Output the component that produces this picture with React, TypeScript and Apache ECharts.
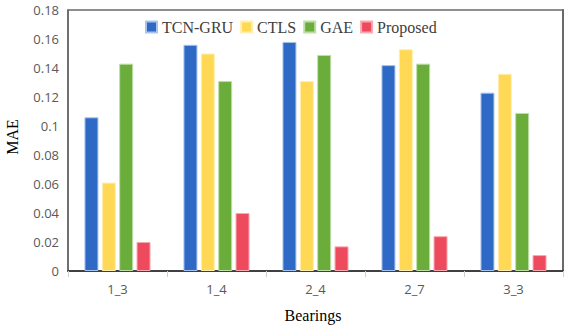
import React, { useEffect, useRef } from "react";
import * as echarts from "echarts";

const categories = ["1_3", "1_4", "2_4", "2_7", "3_3"];
const seriesNames = ["TCN-GRU", "CTLS", "GAE", "Proposed"];
const tcnGru = [0.106, 0.156, 0.158, 0.142, 0.123];
const ctls = [0.061, 0.150, 0.131, 0.153, 0.136];
const gae = [0.143, 0.131, 0.149, 0.143, 0.109];
const proposed = [0.020, 0.040, 0.017, 0.024, 0.011];
const colors = ["#2F69C6", "#FFD955", "#6AAD3A", "#EE4A5D"];
const borderColors = ["#A9C3EE", "#FFEFB0", "#BFDDA8", "#F7A9B2"];

export default function App() {
  const ref = useRef<HTMLDivElement>(null);
  useEffect(() => {
    if (!ref.current) return;
    document.body.style.margin = "0";
    const chart = echarts.init(ref.current, undefined, { renderer: "svg" });
    const data = [tcnGru, ctls, gae, proposed];
    chart.setOption({
      animation: false,
      backgroundColor: "#ffffff",
      grid: { left: 68, right: 9, top: 10, bottom: 54 },
      legend: {
        data: seriesNames,
        left: 140,
        top: 14,
        icon: "rect",
        itemWidth: 11,
        itemHeight: 11,
        itemGap: 7,
        textStyle: { fontFamily: "Liberation Serif", fontSize: 16, color: "#404040" },
      },
      xAxis: [
        {
          type: "category",
          data: categories,
          position: "bottom",
          axisLine: { show: true, onZero: false, lineStyle: { color: "#404040", width: 2 } },
          axisTick: { show: true, length: 6, lineStyle: { color: "#d0d0d0" } },
          axisLabel: { fontFamily: "Open Sans", fontSize: 13, color: "#595959", margin: 11 },
        },
        {
          type: "category",
          data: categories,
          position: "top",
          axisLine: { show: true, onZero: false, lineStyle: { color: "#6a6a6a", width: 1.5 } },
          axisTick: { show: false },
          axisLabel: { show: false },
        },
      ],
      yAxis: [
        {
          type: "value",
          min: 0,
          max: 0.18,
          interval: 0.02,
          position: "left",
          splitLine: { show: false },
          axisLine: { show: true, onZero: false, lineStyle: { color: "#404040", width: 1.5 } },
          axisTick: { show: false },
          axisLabel: { fontFamily: "Open Sans", fontSize: 13, color: "#595959", margin: 9 },
        },
        {
          type: "value",
          min: 0,
          max: 0.18,
          interval: 0.02,
          position: "right",
          splitLine: { show: false },
          axisLine: { show: true, onZero: false, lineStyle: { color: "#6a6a6a", width: 2 } },
          axisTick: { show: false },
          axisLabel: { show: false },
        },
      ],
      series: seriesNames.map((name, i) => ({
        name,
        type: "bar",
        data: data[i],
        barWidth: 14,
        barGap: "24%",
        itemStyle: { color: colors[i], borderColor: borderColors[i], borderWidth: 1 },
      })),
      graphic: [
        {
          type: "text",
          x: 12,
          y: 137,
          rotation: Math.PI / 2,
          style: {
            text: "MAE",
            fontFamily: "Liberation Serif",
            fontSize: 16,
            fill: "#000000",
            align: "center",
            verticalAlign: "middle",
          },
        },
        {
          type: "text",
          x: 313,
          y: 315,
          style: {
            text: "Bearings",
            fontFamily: "Liberation Serif",
            fontSize: 16,
            fill: "#000000",
            align: "center",
            verticalAlign: "middle",
          },
        },
      ],
    });
    return () => chart.dispose();
  }, []);
  return <div ref={ref} style={{ width: 572, height: 325 }} />;
}
